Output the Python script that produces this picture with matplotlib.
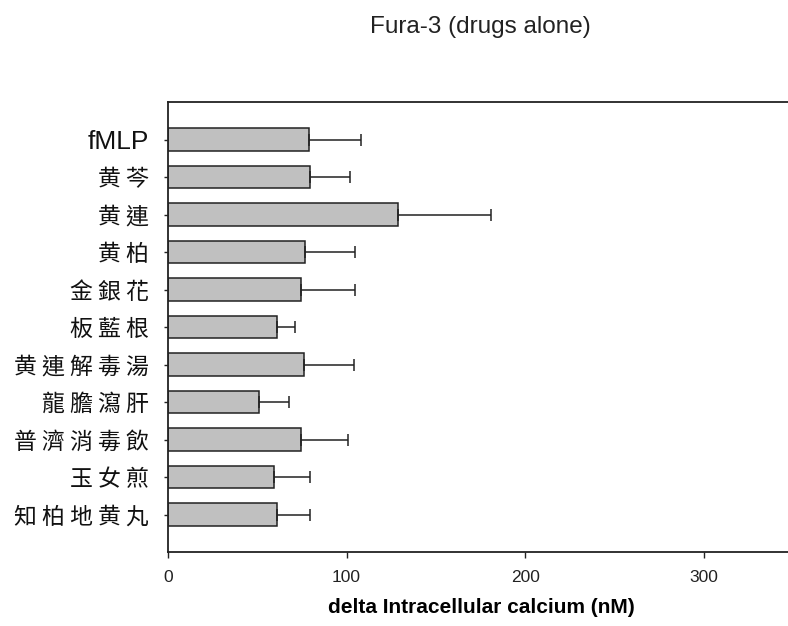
import numpy as np
import matplotlib
matplotlib.use("Agg")
import matplotlib.pyplot as plt

# calcium response per drug (nM), mean and upper error
labels = ["fMLP", "黄 芩", "黄 連", "黄 柏", "金 銀 花", "板 藍 根",
          "黄 連 解 毒 湯", "龍 膽 瀉 肝", "普 濟 消 毒 飲", "玉 女 煎", "知 柏 地 黄 丸"]
means = [79, 79.5, 129, 77, 74.5, 61, 76, 51, 74.5, 59.5, 61]
errs = [29, 22.5, 52, 28, 30.5, 10, 28, 17, 26.5, 20, 18.5]
xticks = [0, 100, 200, 300]

cjk = ["Noto Sans CJK TC", "DejaVu Sans"]
latin = ["Liberation Sans", "DejaVu Sans"]

fig = plt.figure(figsize=(7.88, 6.26), dpi=100)
ax = fig.add_axes([0.2132, 0.1182, 0.7931, 0.7188])

y = np.arange(len(labels))
ax.barh(y, means, height=0.6, color="#c0c0c0", edgecolor="#222222", linewidth=1.1,
        xerr=[np.zeros(len(errs)), errs],
        error_kw=dict(ecolor="#222222", elinewidth=1.1, capsize=4.6, capthick=1.1))

ax.set_xlim(0, 350)
ax.set_ylim(len(labels), -1)
ax.set_xticks(xticks)
ax.set_xticklabels([str(t) for t in xticks], fontsize=12.5, family=latin, color="#222222")
ax.set_yticks(y)
ax.set_yticklabels(labels, fontsize=16.5, family=cjk, color="#111111")
lab0 = ax.get_yticklabels()[0]
lab0.set_fontsize(19)
lab0.set_family(latin)

ax.tick_params(axis="x", length=4, width=1, color="#222222", pad=9)
ax.tick_params(axis="y", length=3, width=1, color="#222222", pad=11)
for side in ["left", "top", "bottom"]:
    ax.spines[side].set_color("#222222")
    ax.spines[side].set_linewidth(1.3)
ax.spines["right"].set_visible(False)

fig.text(0.609, 0.957, "Fura-3 (drugs alone)", ha="center", va="center",
         fontsize=17.5, family=latin, color="#222222")
fig.text(0.611, 0.030, "delta Intracellular calcium (nM)", ha="center", va="center",
         fontsize=15, fontweight="bold", family=latin)

fig.savefig("out.png", dpi=100)
